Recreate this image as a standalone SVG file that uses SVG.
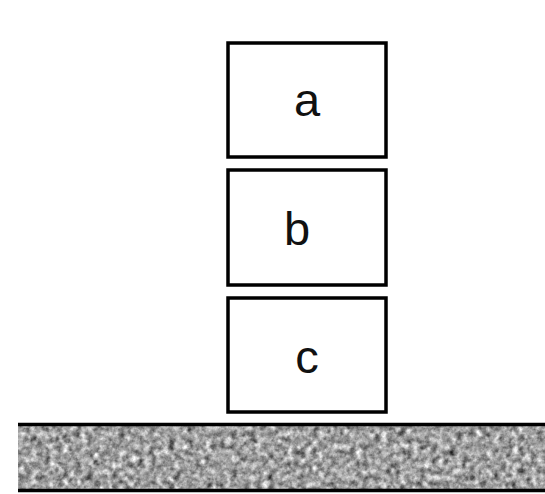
<svg xmlns="http://www.w3.org/2000/svg" width="545" height="494" viewBox="0 0 545 494">
<style>
.box{fill:#fff;stroke:#000;stroke-width:3.5}
.lbl{font-family:"Liberation Sans",Arial,sans-serif;font-size:47px;fill:#111;text-anchor:middle}
</style>
<defs>
<filter id="noise" x="0" y="0" width="100%" height="100%" color-interpolation-filters="sRGB">
<feTurbulence type="fractalNoise" baseFrequency="0.16" numOctaves="3" seed="7" result="t"/>
<feColorMatrix type="matrix" in="t" values="0.33 0.33 0.33 0 0  0.33 0.33 0.33 0 0  0.33 0.33 0.33 0 0  0 0 0 0 1" result="g"/>
<feComponentTransfer in="g"><feFuncR type="linear" slope="1.7" intercept="-0.22"/><feFuncG type="linear" slope="1.7" intercept="-0.22"/><feFuncB type="linear" slope="1.7" intercept="-0.22"/></feComponentTransfer>
</filter>
</defs>
<rect width="545" height="494" fill="#fff"/>
<g id="ground">
<rect x="18" y="425" width="527" height="65" fill="#9a9a9a" filter="url(#noise)"/>
<line x1="18" y1="424.5" x2="545" y2="424.5" stroke="#000" stroke-width="3.5"/>
<line x1="18" y1="490.5" x2="545" y2="490.5" stroke="#000" stroke-width="3.5"/>
</g>
<g id="node-a"><rect class="box" x="228" y="43" width="158" height="114"/><text class="lbl" x="307" y="116">a</text></g>
<g id="node-b"><rect class="box" x="228" y="170" width="158" height="115"/><text class="lbl" x="297" y="245">b</text></g>
<g id="node-c"><rect class="box" x="228" y="298" width="158" height="114"/><text class="lbl" x="307" y="373">c</text></g>
<g id="connectors"></g>
</svg>
